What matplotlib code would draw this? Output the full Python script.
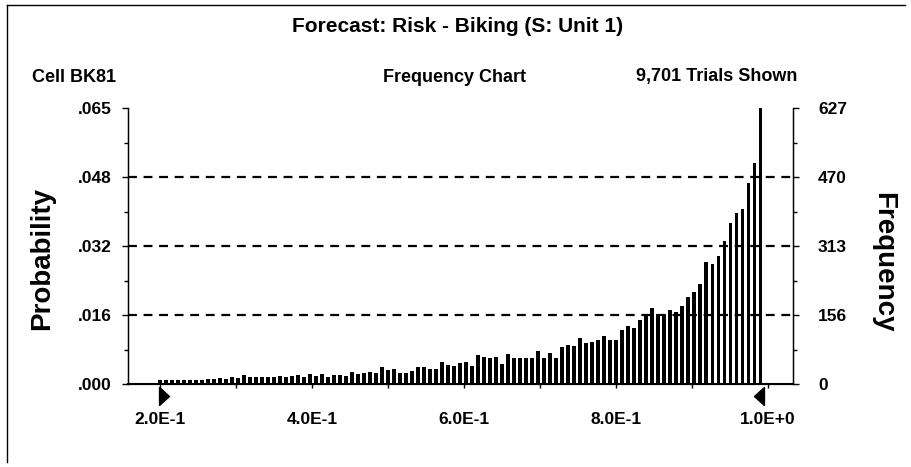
import numpy as np
import matplotlib.pyplot as plt
from matplotlib.lines import Line2D
from matplotlib.path import Path

plt.rcParams['font.family'] = ['Liberation Sans', 'DejaVu Sans']

# chart text
title = 'Forecast: Risk - Biking (S: Unit 1)'
cell_label = 'Cell BK81'
chart_label = 'Frequency Chart'
trials_label = '9,701 Trials Shown'

# frequency counts per cell (left to right)
counts = [8, 9, 9, 10, 9, 10, 9, 8, 11, 11,
          14, 11, 16, 14, 20, 16, 17, 16, 16, 17,
          18, 16, 18, 20, 16, 23, 18, 23, 17, 20,
          20, 18, 27, 23,
          26, 28, 26, 39, 31, 33, 26, 26, 30, 39,
          39, 33, 33, 51, 43, 41, 48, 51, 41, 65,
          61, 60, 61, 45, 69, 58, 58, 58, 58, 75,
          60, 70, 58, 85, 88,
          86, 105, 93, 95, 100, 109, 100, 100, 123, 132,
          127, 145, 157, 173, 159, 157, 168, 164, 177, 198,
          209, 227, 277, 273, 291, 325, 366, 388, 398, 457,
          502, 627]
bin_start = 0.2
bin_width = 0.0079
total_trials = 9701

freq_ticks = [0, 156, 313, 470, 627]
freq_labels = ['0', '156', '313', '470', '627']
prob_labels = ['.000', '.016', '.032', '.048', '.065']
x_major = [0.2, 0.4, 0.6, 0.8, 1.0]
x_labels = ['2.0E-1', '4.0E-1', '6.0E-1', '8.0E-1', '1.0E+0']
x_minor = [0.3, 0.5, 0.7, 0.9]
range_markers = [0.206, 0.988]

W, H = 912, 467
fig = plt.figure(figsize=(W / 100, H / 100), dpi=100)


def fx(x):
    return x / W


def fy(y):
    return 1 - y / H


ax = fig.add_axes([fx(128), fy(384), 665 / W, 276 / H])
centers = bin_start + bin_width * np.arange(len(counts))
prob = np.array(counts) / total_trials
ax.bar(centers, prob, width=0.0047, color='black', linewidth=0)

ax.set_xlim(0.158, 1.033)
ax.set_ylim(0, freq_ticks[-1] / total_trials)

prob_ticks = np.array(freq_ticks) / total_trials
for t in prob_ticks[1:-1]:
    ax.axhline(t, color='black', lw=1.6, dashes=(4, 3), zorder=0)

ax.set_yticks(prob_ticks)
ax.set_yticklabels(prob_labels)
ax.set_yticks((prob_ticks[:-1] + prob_ticks[1:]) / 2, minor=True)
ax.set_xticks(x_major)
ax.set_xticklabels(x_labels)
ax.set_xticks(x_minor, minor=True)
ax.tick_params(axis='y', which='major', length=4, width=1, pad=8, labelsize=12.5)
ax.tick_params(axis='y', which='minor', length=3, width=1)
ax.tick_params(axis='x', which='both', length=3, width=1, pad=17, labelsize=12.5)
for lab in ax.get_xticklabels() + ax.get_yticklabels():
    lab.set_fontweight('bold')

ax.spines['top'].set_visible(False)
ax.spines['left'].set_linewidth(1)
ax.spines['right'].set_linewidth(1)
ax.spines['bottom'].set_linewidth(1.5)

ax2 = ax.twinx()
ax2.set_ylim(0, freq_ticks[-1])
ax2.set_yticks(freq_ticks)
ax2.set_yticklabels(freq_labels)
ax2.set_yticks([(a + b) / 2 for a, b in zip(freq_ticks[:-1], freq_ticks[1:])], minor=True)
ax2.tick_params(axis='y', which='major', length=4, width=1, pad=14, labelsize=12.5)
ax2.tick_params(axis='y', which='minor', length=3, width=1)
for lab in ax2.get_yticklabels():
    lab.set_fontweight('bold')
ax2.spines['top'].set_visible(False)

# certainty range markers below the axis
right_tri = Path([(-0.55, -1), (0.55, 0), (-0.55, 1), (-0.55, -1)])
left_tri = Path([(0.55, -1), (-0.55, 0), (0.55, 1), (0.55, -1)])
trans = ax.get_xaxis_transform()
ax.plot([range_markers[0]], [-0.045], marker=right_tri, ms=13, color='black',
        transform=trans, clip_on=False)
ax.plot([range_markers[1]], [-0.045], marker=left_tri, ms=13, color='black',
        transform=trans, clip_on=False)

# headings
fig.text(fx(458), fy(27), title, ha='center', va='center', fontsize=15, fontweight='bold')
fig.text(fx(32), fy(77), cell_label, ha='left', va='center', fontsize=13, fontweight='bold')
fig.text(fx(455), fy(77), chart_label, ha='center', va='center', fontsize=13, fontweight='bold')
fig.text(fx(797), fy(77), trials_label, ha='right', va='center', fontsize=13, fontweight='bold')

narrow = ['Liberation Sans Narrow', 'Liberation Sans']
fig.text(fx(42), fy(259), 'Probability', rotation=90, ha='center', va='center',
         fontsize=20, fontweight='bold', family=narrow)
fig.text(fx(883), fy(262), 'Frequency', rotation=270, ha='center', va='center',
         fontsize=20, fontweight='bold', family=narrow)

# outer frame
fig.add_artist(Line2D([fx(7), fx(7)], [fy(5), fy(462)], color='black', lw=1))
fig.add_artist(Line2D([fx(7), fx(905)], [fy(5), fy(5)], color='black', lw=1))

fig.savefig('out.png', dpi=100)
